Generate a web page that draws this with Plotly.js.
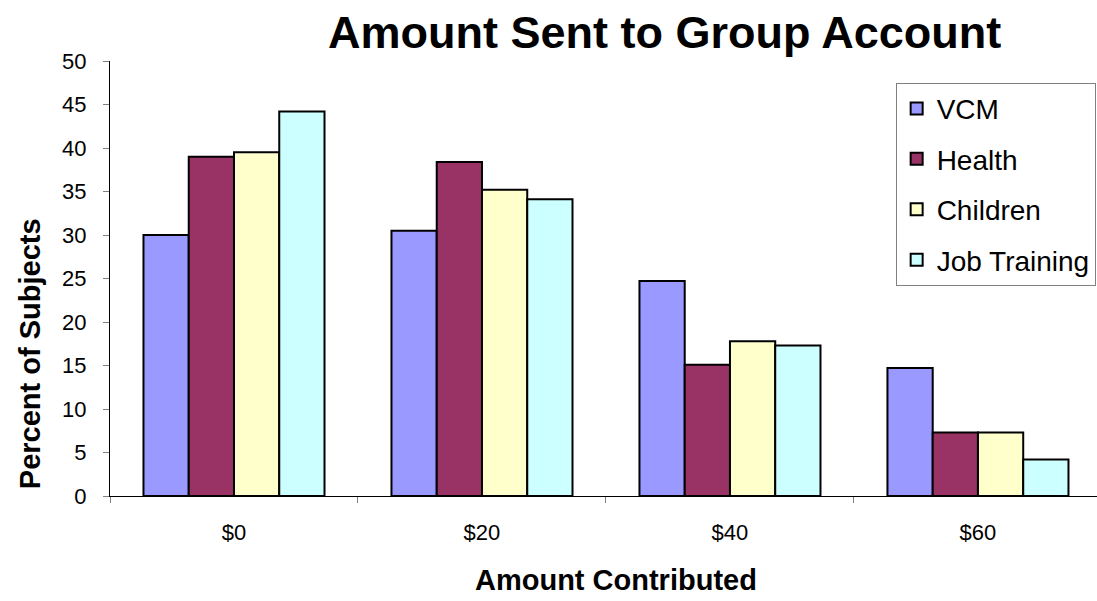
<!DOCTYPE html>
<html><head><meta charset="utf-8">
<script src="https://cdn.plot.ly/plotly-3.0.1.min.js"></script>
<style>body{margin:0;background:#fff}#chart{width:1097px;height:601px}</style>
</head><body><div id="chart"></div>
<script>
const categories = ["$0", "$20", "$40", "$60"];
const seriesNames = ["VCM", "Health", "Children", "Job Training"];
const vcm = [30.0, 30.5, 24.7, 14.7];
const health = [39.0, 38.4, 15.1, 7.3];
const children = [39.5, 35.2, 17.8, 7.3];
const jobTraining = [44.2, 34.1, 17.3, 4.2];
const yTicks = [0, 5, 10, 15, 20, 25, 30, 35, 40, 45, 50];
const colors = ["#9999FF", "#993366", "#FFFFCC", "#CCFFFF"];

const values = [vcm, health, children, jobTraining];
const traces = values.map((v, i) => ({
  type: "bar", name: seriesNames[i], x: categories, y: v,
  legendgroup: "g" + i,
  marker: {color: colors[i], line: {color: "#000", width: 2}}
}));

const F = "Liberation Sans, Arial, sans-serif";
const layout = {
  width: 1097, height: 601,
  margin: {l: 110, r: 0, t: 61, b: 105},
  paper_bgcolor: "#fff", plot_bgcolor: "rgba(0,0,0,0)",
  font: {family: F, color: "#000"},
  barmode: "group", bargap: 0.27, bargroupgap: 0,
  showlegend: true,
  legend: {x: 0.796, y: 0.95, xanchor: "left", yanchor: "top",
    bgcolor: "#fff", bordercolor: "#808080", borderwidth: 1,
    font: {family: F, size: 28, color: "#000"},
    traceorder: "grouped", tracegroupgap: 11, itemwidth: 30},
  xaxis: {type: "category", range: [-0.5, 3.48], showline: true, linecolor: "#000", linewidth: 1,
    ticks: "outside", tickson: "boundaries", ticklen: 6, tickcolor: "#808080",
    tickfont: {family: F, size: 22}, ticklabelstandoff: 17, showgrid: false, zeroline: false},
  yaxis: {range: [0, 50], tickvals: yTicks, showline: true, linecolor: "#000", linewidth: 1,
    ticks: "outside", ticklen: 6, tickcolor: "#808080", showgrid: false, zeroline: false,
    tickfont: {family: F, size: 22}, ticklabelstandoff: 12},
  annotations: [
    {text: "<b>Amount Sent to Group Account</b>", xref: "paper", yref: "paper",
     x: 0.562, y: 1.0, xanchor: "center", yanchor: "middle", yshift: 29, showarrow: false,
     font: {family: F, size: 45}},
    {text: "<b>Amount Contributed</b>", xref: "paper", yref: "paper",
     x: 0.513, y: 0, xanchor: "center", yanchor: "middle", yshift: -84, showarrow: false,
     font: {family: F, size: 29}},
    {text: "<b>Percent of Subjects</b>", xref: "paper", yref: "paper", textangle: -90,
     x: 0, y: 0.326, xanchor: "center", yanchor: "middle", xshift: -80, showarrow: false,
     font: {family: F, size: 29}}
  ]
};
Plotly.newPlot("chart", traces, layout, {displayModeBar: false, staticPlot: true});
</script></body></html>
